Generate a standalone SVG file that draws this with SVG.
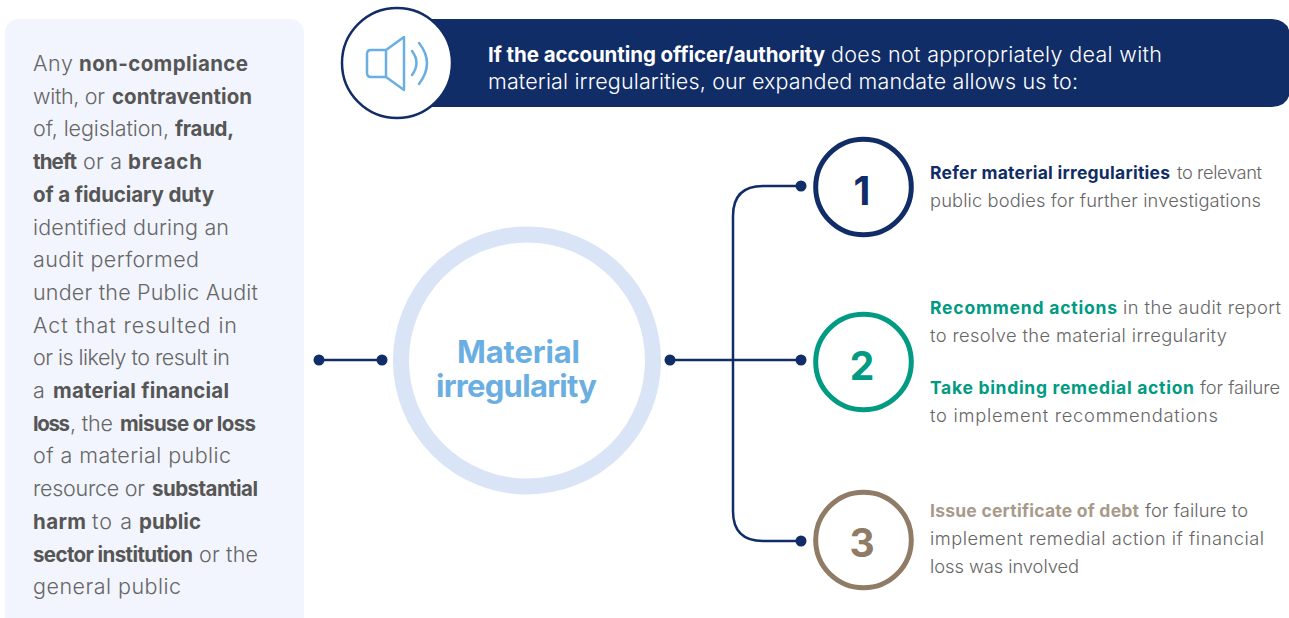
<svg xmlns="http://www.w3.org/2000/svg" width="1289" height="618" viewBox="0 0 1289 618">
<defs><style>
text{font-family:"Inter","Liberation Sans",Arial,sans-serif;font-weight:300}
.left{font-size:21.5px;fill:#666}
.left .b{fill:#565656;font-weight:700;font-size:20.5px}
.ban{font-size:21.500px;fill:#fff}
.ban .b{font-weight:700;font-size:20.5px}
.side{font-size:18.300px;fill:#666}
.side .b{font-weight:700;font-size:17.500px}
.title{font-size:31px;font-weight:700;fill:#6aaee2}
.num{font-size:39px;font-weight:700;text-anchor:middle}
.ln{fill:none;stroke:#112d67;stroke-width:2.5}
.dot{fill:#112d67}
.ico{fill:none;stroke:#6aaee2;stroke-width:2.5;stroke-linejoin:round;stroke-linecap:round}
</style></defs>
<rect width="1289" height="618" fill="#fff"/>
<g id="definition">
<rect x="5" y="19" width="299" height="640" rx="14" fill="#f2f5fd"/>
<g class="left">
<text y="71"><tspan x="33" textLength="40">Any</tspan><tspan class="b" x="79" textLength="169">non-compliance</tspan></text>
<text y="103.7"><tspan x="33" textLength="72">with, or</tspan><tspan class="b" x="112" textLength="140">contravention</tspan></text>
<text y="136.4"><tspan x="33" textLength="136">of, legislation,</tspan><tspan class="b" x="175" textLength="59">fraud,</tspan></text>
<text y="169.1"><tspan class="b" x="33" textLength="44">theft</tspan><tspan x="83" textLength="39">or a</tspan><tspan class="b" x="128" textLength="74">breach</tspan></text>
<text y="201.8"><tspan class="b" x="33" textLength="181">of a fiduciary duty</tspan></text>
<text y="234.5" x="33" textLength="196">identified during an</text>
<text y="267.2" x="33" textLength="166">audit performed</text>
<text y="299.9" x="33" textLength="225">under the Public Audit</text>
<text y="332.6" x="33" textLength="204">Act that resulted in</text>
<text y="365.3" x="33" textLength="197">or is likely to result in</text>
<text y="398"><tspan x="33" textLength="12">a</tspan><tspan class="b" x="53" textLength="176">material financial</tspan></text>
<text y="430.7"><tspan class="b" x="33" textLength="37">loss</tspan><tspan x="70" textLength="43">, the</tspan><tspan class="b" x="120" textLength="136">misuse or loss</tspan></text>
<text y="463.4" x="33" textLength="198">of a material public</text>
<text y="496.1"><tspan x="33" textLength="112">resource or</tspan><tspan class="b" x="152" textLength="106">substantial</tspan></text>
<text y="528.8"><tspan class="b" x="33" textLength="53">harm</tspan><tspan x="92" textLength="40">to a</tspan><tspan class="b" x="139" textLength="62">public</tspan></text>
<text y="561.5"><tspan class="b" x="33" textLength="160">sector institution</tspan><tspan x="199" textLength="59">or the</tspan></text>
<text y="594.2" x="33" textLength="148">general public</text>
</g>
</g>
<g id="banner">
<path d="M400 19H1272Q1286 20 1289 30V96Q1286 106 1272 107H400Z" fill="#112d67"/>
<g class="ban">
<text y="62"><tspan class="b" x="488" textLength="337">If the accounting officer/authority</tspan><tspan x="831" textLength="331">does not appropriately deal with</tspan></text>
<text y="88.500" x="488" textLength="590">material irregularities, our expanded mandate allows us to:</text>
</g>
</g>
<g id="speaker">
<circle cx="397" cy="63" r="55" fill="#fff" stroke="#112d67" stroke-width="2.500"/>
<path class="ico" d="M386 50H371Q367 50 367 54V73Q367 77 371 77H386ZM386 50L404 37V90L386 77"/>
<path class="ico" d="M412 51Q421 63 412 75M419 43Q435 63 419 84"/>
</g>
<g id="connectors">
<path class="ln" d="M319 360H382M670 360H801M801 186H763Q733 186 733 216V511Q733 541 763 541H801"/>
<circle class="dot" cx="319" cy="360" r="5.500"/><circle class="dot" cx="382" cy="360" r="5.500"/>
<circle class="dot" cx="670" cy="360" r="5.500"/><circle class="dot" cx="801" cy="186" r="5.500"/>
<circle class="dot" cx="801" cy="360" r="5.500"/><circle class="dot" cx="801" cy="541" r="5.500"/>
</g>
<g id="material-irregularity">
<circle cx="527" cy="360.500" r="126" fill="#fff" stroke="#d9e5f6" stroke-width="16"/>
<text class="title" y="363" x="457" textLength="123">Material</text>
<text class="title" y="397" x="436" textLength="161">irregularity</text>
</g>
<g id="step-1">
<circle cx="863.500" cy="187" r="47.800" fill="#fff" stroke="#112d67" stroke-width="5"/>
<text class="num" x="862" y="205" fill="#112d67">1</text>
<g class="side">
<text y="179"><tspan class="b" x="930" textLength="240" fill="#112d67">Refer material irregularities</tspan><tspan x="1177" textLength="85">to relevant</tspan></text>
<text y="207" x="930" textLength="331">public bodies for further investigations</text>
</g>
</g>
<g id="step-2">
<circle cx="863.500" cy="362" r="47.800" fill="#fff" stroke="#009b82" stroke-width="5"/>
<text class="num" x="862" y="380" fill="#009b82">2</text>
<g class="side">
<text y="314"><tspan class="b" x="930" textLength="187" fill="#009b82">Recommend actions</tspan><tspan x="1123" textLength="158">in the audit report</tspan></text>
<text y="342" x="930" textLength="297">to resolve the material irregularity</text>
<text y="394"><tspan class="b" x="930" textLength="264" fill="#009b82">Take binding remedial action</tspan><tspan x="1200" textLength="80">for failure</tspan></text>
<text y="422" x="930" textLength="288">to implement recommendations</text>
</g>
</g>
<g id="step-3">
<circle cx="863.500" cy="540" r="47.800" fill="#fff" stroke="#8f7b66" stroke-width="5"/>
<text class="num" x="862" y="557" fill="#8f7b66">3</text>
<g class="side">
<text y="517"><tspan class="b" x="930" textLength="209" fill="#a89a8b">Issue certificate of debt</tspan><tspan x="1145" textLength="103">for failure to</tspan></text>
<text y="545" x="930" textLength="334">implement remedial action if financial</text>
<text y="573" x="930" textLength="149">loss was involved</text>
</g>
</g>
</svg>
